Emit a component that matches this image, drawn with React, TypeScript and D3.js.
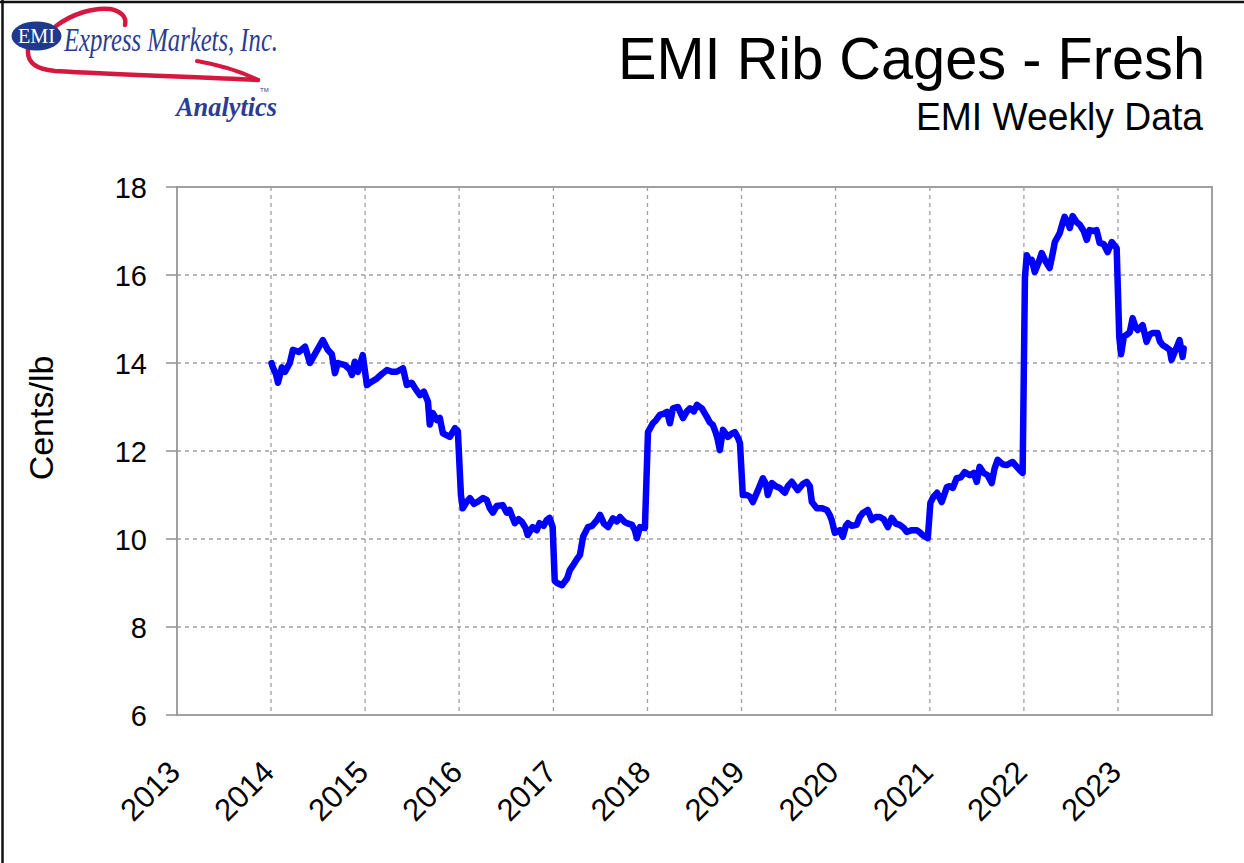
import React from "react";
import * as d3 from "d3";

const W = 1244;
const H = 863;

const titleText = "EMI Rib Cages - Fresh";
const subtitleText = "EMI Weekly Data";
const yAxisLabel = "Cents/lb";
const yearTicks = [2013, 2014, 2015, 2016, 2017, 2018, 2019, 2020, 2021, 2022, 2023];
const yTicks = [6, 8, 10, 12, 14, 16, 18];

const dates: string[] = [
  // 2014
  "2014-01-03", "2014-01-08", "2014-01-20", "2014-01-28", "2014-02-12", "2014-02-24", "2014-03-15", "2014-03-27", "2014-04-19", "2014-05-13", "2014-06-01", "2014-06-20", "2014-07-21", "2014-08-09", "2014-08-25", "2014-09-06", "2014-09-17", "2014-10-15", "2014-11-03", "2014-11-11", "2014-11-22", "2014-12-04", "2014-12-23",
  // 2015
  "2015-01-08", "2015-01-20", "2015-02-16", "2015-03-07", "2015-03-27", "2015-04-15", "2015-05-04", "2015-05-28", "2015-06-12", "2015-07-01", "2015-07-17", "2015-08-02", "2015-08-17", "2015-09-02", "2015-09-09", "2015-09-21", "2015-10-07", "2015-10-18", "2015-10-30", "2015-11-26", "2015-12-16", "2015-12-27",
  // 2016
  "2016-01-08", "2016-01-15", "2016-01-31", "2016-02-12", "2016-02-27", "2016-03-14", "2016-04-02", "2016-04-17", "2016-04-29", "2016-05-11", "2016-05-26", "2016-06-18", "2016-07-04", "2016-07-15", "2016-08-04", "2016-08-19", "2016-08-31", "2016-09-15", "2016-09-23", "2016-10-12", "2016-10-28", "2016-11-08", "2016-11-24", "2016-12-06", "2016-12-17", "2016-12-29",
  // 2017
  "2017-01-06", "2017-01-15", "2017-02-03", "2017-02-23", "2017-03-06", "2017-03-18", "2017-04-03", "2017-04-14", "2017-04-26", "2017-05-15", "2017-05-31", "2017-06-19", "2017-07-01", "2017-07-16", "2017-08-01", "2017-08-20", "2017-09-04", "2017-09-16", "2017-10-02", "2017-10-13", "2017-11-02", "2017-11-13", "2017-11-21", "2017-12-03", "2017-12-22",
  // 2018
  "2018-01-03", "2018-01-22", "2018-02-03", "2018-02-18", "2018-03-06", "2018-03-18", "2018-03-29", "2018-04-10", "2018-04-29", "2018-05-19", "2018-06-03", "2018-06-15", "2018-06-30", "2018-07-12", "2018-07-31", "2018-08-20", "2018-08-31", "2018-09-12", "2018-09-24", "2018-10-01", "2018-10-09", "2018-10-21", "2018-11-09", "2018-11-25", "2018-12-06", "2018-12-18", "2018-12-26",
  // 2019
  "2019-01-06", "2019-01-22", "2019-02-03", "2019-02-14", "2019-03-06", "2019-03-25", "2019-04-06", "2019-04-13", "2019-04-29", "2019-05-14", "2019-05-30", "2019-06-18", "2019-06-30", "2019-07-15", "2019-07-27", "2019-08-07", "2019-08-27", "2019-09-11", "2019-09-23", "2019-10-01", "2019-10-20", "2019-11-08", "2019-11-28", "2019-12-09", "2019-12-17", "2019-12-29",
  // 2020
  "2020-01-18", "2020-01-29", "2020-02-10", "2020-02-18", "2020-03-04", "2020-03-23", "2020-04-04", "2020-04-16", "2020-05-05", "2020-05-21", "2020-06-05", "2020-06-21", "2020-07-06", "2020-07-22", "2020-08-06", "2020-08-22", "2020-09-06", "2020-09-22", "2020-10-03", "2020-10-23", "2020-11-11", "2020-11-23", "2020-12-04", "2020-12-24",
  // 2021
  "2021-01-03", "2021-01-14", "2021-01-29", "2021-02-16", "2021-03-08", "2021-03-19", "2021-03-31", "2021-04-15", "2021-05-01", "2021-05-16", "2021-06-05", "2021-06-20", "2021-07-02", "2021-07-13", "2021-07-29", "2021-08-13", "2021-08-29", "2021-09-09", "2021-09-21", "2021-10-10", "2021-10-26", "2021-11-18", "2021-12-03", "2021-12-15", "2021-12-27",
  // 2022
  "2022-01-05", "2022-01-12", "2022-01-24", "2022-02-01", "2022-02-12", "2022-02-28", "2022-03-11", "2022-03-27", "2022-04-11", "2022-04-23", "2022-05-01", "2022-05-20", "2022-06-01", "2022-06-08", "2022-06-20", "2022-06-28", "2022-07-09", "2022-07-25", "2022-08-06", "2022-08-21", "2022-09-02", "2022-09-13", "2022-09-29", "2022-10-10", "2022-10-22", "2022-11-07", "2022-11-22", "2022-12-08", "2022-12-27",
  // 2023
  "2023-01-06", "2023-01-13", "2023-01-24", "2023-02-04", "2023-02-16", "2023-02-27", "2023-03-11", "2023-03-19", "2023-04-07", "2023-04-22", "2023-05-04", "2023-05-16", "2023-06-04", "2023-06-12", "2023-06-23", "2023-07-09", "2023-07-21", "2023-07-28", "2023-08-09", "2023-08-17", "2023-08-28", "2023-09-09", "2023-09-13",
];

const prices: number[] = [
  // 2014
  14.0, 13.9, 13.75, 13.55, 13.9, 13.8, 14.0, 14.3, 14.25, 14.37, 14.0, 14.2, 14.52, 14.3, 14.2, 13.77, 14.0, 13.95, 13.85, 13.73, 14.03, 13.8, 14.18,
  // 2015
  13.5, 13.55, 13.65, 13.75, 13.84, 13.8, 13.8, 13.88, 13.5, 13.55, 13.4, 13.27, 13.35, 13.12, 12.6, 12.86, 12.7, 12.75, 12.4, 12.32, 12.52, 12.45,
  // 2016
  11.0, 10.7, 10.85, 10.93, 10.8, 10.85, 10.93, 10.89, 10.7, 10.6, 10.75, 10.77, 10.6, 10.66, 10.36, 10.45, 10.39, 10.25, 10.09, 10.27, 10.2, 10.36, 10.3, 10.43, 10.48, 10.27,
  // 2017
  9.05, 9.0, 8.95, 9.1, 9.3, 9.4, 9.55, 9.64, 10.05, 10.27, 10.3, 10.43, 10.55, 10.35, 10.27, 10.47, 10.4, 10.5, 10.4, 10.36, 10.32, 10.2, 10.02, 10.27, 10.25,
  // 2018
  12.43, 12.63, 12.7, 12.82, 12.85, 12.89, 12.63, 12.97, 13.0, 12.75, 12.9, 12.97, 12.9, 13.05, 12.97, 12.77, 12.65, 12.59, 12.4, 12.25, 12.02, 12.48, 12.32, 12.4, 12.43, 12.3, 12.18,
  // 2019
  11.0, 11.0, 10.96, 10.84, 11.11, 11.38, 11.25, 11.0, 11.27, 11.2, 11.16, 11.05, 11.2, 11.3, 11.2, 11.11, 11.25, 11.3, 11.2, 10.84, 10.7, 10.7, 10.66, 10.55, 10.43, 10.14,
  // 2020
  10.2, 10.05, 10.3, 10.36, 10.3, 10.32, 10.5, 10.59, 10.66, 10.43, 10.5, 10.5, 10.45, 10.27, 10.48, 10.35, 10.32, 10.25, 10.16, 10.2, 10.2, 10.15, 10.09, 10.02,
  // 2021
  10.82, 10.95, 11.05, 10.84, 11.18, 11.2, 11.16, 11.38, 11.4, 11.52, 11.45, 11.5, 11.3, 11.64, 11.5, 11.45, 11.27, 11.6, 11.8, 11.7, 11.68, 11.75, 11.65, 11.57, 11.5,
  // 2022
  15.95, 16.45, 16.3, 16.34, 16.07, 16.3, 16.5, 16.3, 16.16, 16.5, 16.75, 16.95, 17.2, 17.32, 17.2, 17.07, 17.34, 17.2, 17.14, 17.0, 16.8, 17.02, 17.0, 17.02, 16.73, 16.7, 16.52, 16.75, 16.61,
  // 2023
  14.6, 14.2, 14.6, 14.64, 14.7, 15.02, 14.8, 14.75, 14.86, 14.48, 14.65, 14.68, 14.68, 14.5, 14.41, 14.35, 14.3, 14.07, 14.25, 14.36, 14.52, 14.14, 14.33,
];

const SANS = "'Liberation Sans', Arial, sans-serif";
const SERIF = "'Liberation Serif', 'Times New Roman', serif";

export default function App() {
  const parse = d3.timeParse("%Y-%m-%d");
  const series = dates
    .map((d, i) => ({ date: parse(d) as Date, value: prices[i] }))
    .filter((p) => p.date && p.value != null);

  const left = 177;
  const right = 1212;
  const top = 187;
  const bottom = 715;

  const x = d3
    .scaleTime()
    .domain([new Date(2013, 0, 1), new Date(2024, 0, 1)])
    .range([left, right]);
  const y = d3.scaleLinear().domain([6, 18]).range([bottom, top]);

  const line = d3
    .line<{ date: Date; value: number }>()
    .x((d) => x(d.date))
    .y((d) => y(d.value));

  const gridColor = "#a0a0a0";
  const red = "#d4183f";
  const navy = "#2b3d92";

  return (
    <svg
      width={W}
      height={H}
      style={{ position: "absolute", left: 0, top: 0, background: "#fff" }}
    >
      <rect x={0} y={0} width={W} height={H} fill="#fff" />
      {/* outer frame (top & left) */}
      <line x1={0} x2={W} y1={2} y2={2} stroke="#111" strokeWidth={2.5} />
      <line x1={2.5} x2={2.5} y1={0} y2={H} stroke="#111" strokeWidth={2.5} />

      {/* logo */}
      <g>
        <path
          d="M 56 26 C 72 14, 94 7, 110 9 C 121 11, 127 17, 125 25"
          fill="none"
          stroke={red}
          strokeWidth={4.5}
          strokeLinecap="round"
        />
        <path
          d="M 28 50 C 27 62, 35 69, 55 71 C 120 75, 200 77, 258 80"
          fill="none"
          stroke={red}
          strokeWidth={4.5}
          strokeLinecap="round"
        />
        <path
          d="M 197 61 C 220 65, 240 71, 258 80"
          fill="none"
          stroke={red}
          strokeWidth={4}
          strokeLinecap="round"
        />
        <ellipse cx={36.5} cy={36} rx={25} ry={14.5} fill="#1f3a8c" />
        <text
          x={36.5}
          y={43}
          textAnchor="middle"
          fill="#fff"
          fontFamily={SERIF}
          fontSize={21}
          textLength={37}
          lengthAdjust="spacingAndGlyphs"
        >
          EMI
        </text>
        <text
          x={64}
          y={51}
          fill={navy}
          fontFamily={SERIF}
          fontStyle="italic"
          fontSize={34}
          textLength={214}
          lengthAdjust="spacingAndGlyphs"
        >
          Express Markets, Inc.
        </text>
        <text
          x={176}
          y={116}
          fill={navy}
          fontFamily={SERIF}
          fontStyle="italic"
          fontWeight="bold"
          fontSize={27}
          textLength={101}
          lengthAdjust="spacingAndGlyphs"
        >
          Analytics
        </text>
        <text x={260} y={92} fill={navy} fontFamily={SANS} fontSize={6}>
          TM
        </text>
      </g>

      {/* titles */}
      <text
        x={1205}
        y={79}
        textAnchor="end"
        fontFamily={SANS}
        fontSize={60}
        fill="#000"
        textLength={587}
        lengthAdjust="spacingAndGlyphs"
      >
        {titleText}
      </text>
      <text
        x={1203}
        y={130}
        textAnchor="end"
        fontFamily={SANS}
        fontSize={38}
        fill="#000"
        textLength={287}
        lengthAdjust="spacingAndGlyphs"
      >
        {subtitleText}
      </text>

      {/* gridlines */}
      {yTicks
        .filter((t) => t > 6 && t < 18)
        .map((t) => (
          <line
            key={"hg" + t}
            x1={left}
            x2={right}
            y1={y(t)}
            y2={y(t)}
            stroke={gridColor}
            strokeWidth={1.3}
            strokeDasharray="4,4"
          />
        ))}
      {yearTicks
        .filter((yr) => yr > 2013)
        .map((yr) => {
          const xx = x(new Date(yr, 0, 1));
          return (
            <line
              key={"vg" + yr}
              x1={xx}
              x2={xx}
              y1={top}
              y2={bottom}
              stroke={gridColor}
              strokeWidth={1.3}
              strokeDasharray="4,4"
            />
          );
        })}

      {/* plot frame */}
      <rect
        x={left}
        y={top}
        width={right - left}
        height={bottom - top}
        fill="none"
        stroke="#a0a0a0"
        strokeWidth={2}
      />

      {/* y ticks & labels */}
      {yTicks.map((t) => (
        <g key={"yt" + t}>
          <line x1={left - 11} x2={left} y1={y(t)} y2={y(t)} stroke="#909090" strokeWidth={1.5} />
          <text
            x={147}
            y={y(t) + 10.5}
            textAnchor="end"
            fontFamily={SANS}
            fontSize={29}
            fill="#000"
          >
            {t}
          </text>
        </g>
      ))}

      {/* x labels */}
      {yearTicks.map((yr) => {
        const xx = x(new Date(yr, 0, 1));
        return (
          <text
            key={"xl" + yr}
            transform={`translate(${xx + 5},${774}) rotate(-45)`}
            textAnchor="end"
            fontFamily={SANS}
            fontSize={31}
            fill="#000"
          >
            {yr}
          </text>
        );
      })}

      {/* y axis title */}
      <text
        transform={`translate(53,418) rotate(-90)`}
        textAnchor="middle"
        fontFamily={SANS}
        fontSize={34}
        fill="#000"
      >
        {yAxisLabel}
      </text>

      {/* data line */}
      <path
        d={line(series) || ""}
        fill="none"
        stroke="#0000ff"
        strokeWidth={6.5}
        strokeLinejoin="round"
        strokeLinecap="round"
      />
    </svg>
  );
}
